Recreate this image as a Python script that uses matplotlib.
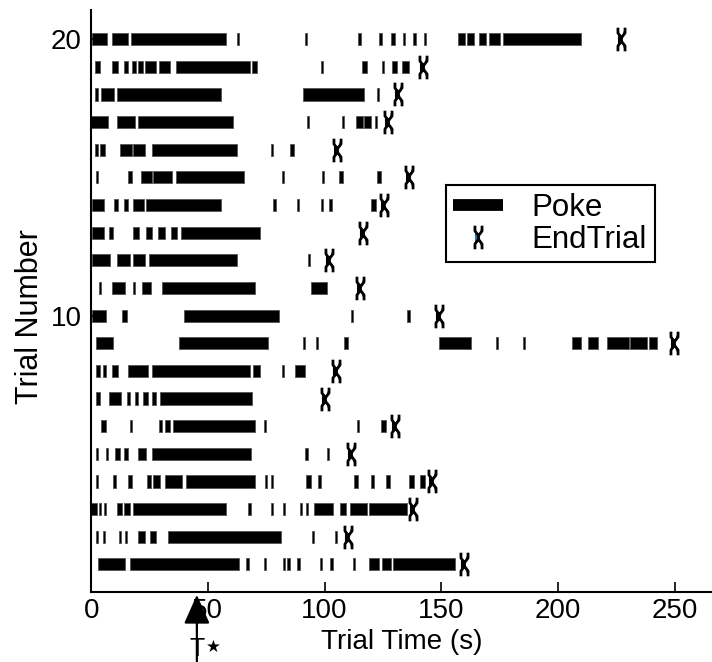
import matplotlib
matplotlib.use('Agg')
import matplotlib.pyplot as plt
from matplotlib.path import Path
from matplotlib.lines import Line2D

plt.rcParams['font.family'] = ['Liberation Sans', 'DejaVu Sans']

# poke intervals (start, end) in seconds for each trial
pokes_01 = [(3.1, 14.5), (16.7, 63.2), (66.5, 67.5), (74, 75), (82, 83), (84, 85), (88.3, 89.3),
            (98, 99), (102.5, 103.5), (112, 113), (119.2, 123.5), (124.5, 128.5), (129.5, 156)]
pokes_02 = [(2, 3), (5, 6), (12, 13), (14.4, 15.4), (20.2, 23), (25.2, 28), (33, 81.5),
            (94.5, 95.5), (104.5, 105.5)]
pokes_03 = [(0, 2.5), (3.2, 4.2), (5.5, 6.5), (11, 13.1), (14.2, 16.7), (18, 57.6), (67, 68.6),
            (77, 78), (82, 83), (89.5, 90.5), (92, 93), (95.4, 103.6), (106.8, 109.3),
            (110.7, 118.2), (119.2, 135.2)]
pokes_04 = [(2, 3), (9.5, 10.5), (15.7, 17.4), (23.8, 25.6), (26.6, 29.5), (31.6, 38.8),
            (40.6, 70.1), (74.5, 75.5), (77, 78), (92.2, 94.3), (97.4, 98.4), (112.5, 114.2),
            (119.7, 121.4), (126.3, 128.2), (136.3, 138.5), (140.9, 143.2)]
pokes_05 = [(2, 3), (6.2, 7.2), (10.3, 12.4), (14.2, 15.7), (20.2, 23.4), (26, 68.6),
            (91.7, 92.7), (100.9, 101.9)]
pokes_06 = [(4.3, 6.3), (16.6, 17.6), (29, 30.5), (31.6, 33.8), (35.2, 70.1), (73.9, 74.9),
            (113.7, 114.7), (124.2, 126.3)]
pokes_07 = [(2, 3.8), (7.7, 12.8), (15.5, 16.7), (18.8, 20.2), (22.4, 24.2), (26, 28), (29.5, 68.9)]
pokes_08 = [(2, 3.8), (5.2, 6.2), (8.8, 11.7), (15.7, 24.5), (26, 68), (69.4, 72.2),
            (81.7, 82.7), (87.5, 91.7)]
pokes_09 = [(2, 9.5), (37.6, 75.8), (90.7, 91.7), (96.4, 97.4), (108.3, 110), (149, 162.7),
            (173.3, 174.3), (185, 186), (206, 210), (213, 217.2), (221, 230.3), (231, 238.1),
            (239.2, 242.4)]
pokes_10 = [(0.3, 6.3), (13.4, 15.2), (39.7, 80.5), (111.3, 112.3), (135.5, 136.5)]
pokes_11 = [(3.3, 4.3), (8.8, 14.5), (18, 18.8), (21.6, 25.6), (30.5, 70.4), (94.3, 101.1)]
pokes_12 = [(0.3, 8.1), (11, 16.7), (18, 23), (25, 62.3), (92.8, 93.8)]
pokes_13 = [(0.3, 5.3), (7.7, 9.5), (18, 20.5), (23.5, 26), (28.8, 31.6), (34.2, 37), (38.5, 72.2)]
pokes_14 = [(0.3, 5.3), (10, 11.7), (14.2, 15.7), (17.8, 22.8), (23.4, 55.6), (78.1, 79.1),
            (88.1, 89.1), (98.3, 99.3), (102.1, 103.1), (120, 122)]
pokes_15 = [(1.9, 2.9), (16, 17.4), (21.4, 26), (26.6, 34.5), (36.2, 65.5), (81.8, 82.8),
            (98.8, 99.8), (106, 107.7), (122.6, 124.4)]
pokes_16 = [(1.7, 2.8), (3.8, 6), (12.4, 17.4), (18, 23), (26, 62.3), (76.9, 77.9), (85, 86.8)]
pokes_17 = [(0, 7.3), (11, 18.8), (20.2, 60.7), (92.5, 93.5), (107.5, 108.5), (113.5, 116.4),
            (117, 120), (121.5, 122.5)]
pokes_18 = [(1.7, 3), (4.3, 9.8), (11, 55.6), (90.6, 117), (122.5, 123.5)]
pokes_19 = [(1.7, 3.8), (9, 11.5), (14, 15.8), (17.4, 19.1), (20.2, 22.4), (23, 28), (29, 33.8),
            (36.2, 68), (69, 71.2), (98.5, 99.5), (116, 118.4), (124.5, 125.5), (129, 131),
            (133, 136.3)]
pokes_20 = [(0.4, 6.8), (9, 15.8), (17, 57.7), (62.5, 63.5), (91.5, 92.5), (114.5, 115.5),
            (123.5, 124.5), (128.5, 130), (133.5, 134.5), (138, 139), (142.5, 143.5),
            (157, 160), (161, 164), (166, 169), (170.5, 175), (176.5, 210)]

pokes = [pokes_01, pokes_02, pokes_03, pokes_04, pokes_05, pokes_06, pokes_07, pokes_08,
         pokes_09, pokes_10, pokes_11, pokes_12, pokes_13, pokes_14, pokes_15, pokes_16,
         pokes_17, pokes_18, pokes_19, pokes_20]

# end of trial time for trials 1..20
end_trial = [159.8, 110, 138, 146, 111.4, 130.2, 100.3, 105, 249.6, 149,
             115, 101.8, 116.4, 125.3, 136.3, 105.5, 127.4, 131.6, 142, 227]

t_star = 45.3

# hourglass-like marker for EndTrial
verts = [(-0.3, 1), (-0.3, 0.55), (0, 0.15), (0, -0.15), (-0.3, -0.55), (-0.3, -1),
         (0.3, 1), (0.3, 0.55), (0, 0.15),
         (0, -0.15), (0.3, -0.55), (0.3, -1)]
codes = [Path.MOVETO, Path.LINETO, Path.LINETO, Path.LINETO, Path.LINETO, Path.LINETO,
         Path.MOVETO, Path.LINETO, Path.LINETO,
         Path.MOVETO, Path.LINETO, Path.LINETO]
end_marker = Path(verts, codes)

fig = plt.figure(figsize=(7.12, 6.62), dpi=100)
ax = fig.add_axes([0.128, 0.1057, 0.872, 0.879])

for i, trial in enumerate(pokes):
    y = i + 1
    ax.broken_barh([(s, e - s) for s, e in trial], (y - 0.22, 0.44),
                   facecolors='black', edgecolors='#555555', linewidth=0.6)

ax.plot(end_trial, range(1, 21), linestyle='none', marker=end_marker,
        markersize=17, markeredgecolor='black', markeredgewidth=2, color='black')

ax.set_xlim(0, 266)
ax.set_ylim(0, 21.05)
ax.set_xticks([0, 50, 100, 150, 200, 250])
ax.set_yticks([10, 20])
ax.tick_params(direction='in', length=7, width=1.2, labelsize=20, pad=4)
ax.tick_params(axis='y', pad=7)
for s in ['top', 'right']:
    ax.spines[s].set_visible(False)
for s in ['left', 'bottom']:
    ax.spines[s].set_linewidth(1.5)

ax.set_xlabel('Trial Time (s)', fontsize=20, labelpad=4)
ax.set_ylabel('Trial Number', fontsize=22)
ax.yaxis.set_label_coords(-0.075, 0.474)

# T* arrow from below the axis
ax.annotate('', xy=(t_star, 0.0), xytext=(t_star, -2.8), annotation_clip=False,
            arrowprops=dict(arrowstyle='-|>,head_length=1.8,head_width=0.8',
                            mutation_scale=10, color='black', lw=1.6))
ax.text(t_star, -1.62, 'T', fontsize=18, ha='center', va='top', clip_on=False)
ax.text(52.3, -2.0, '★', fontsize=12, ha='center', va='center', clip_on=False,
        family=['DejaVu Sans'])

handles = [Line2D([], [], color='black', lw=8.5, solid_capstyle='butt'),
           Line2D([], [], linestyle='none', marker=end_marker, markersize=17,
                  markeredgecolor='black', markeredgewidth=2)]
leg = ax.legend(handles, ['Poke', 'EndTrial'], loc='upper left',
                bbox_to_anchor=(0.571, 0.699), borderaxespad=0, fontsize=22.5,
                fancybox=False, framealpha=1, edgecolor='black', handlelength=1.6,
                handletextpad=0.9, labelspacing=0.05, borderpad=0.25)
leg.get_frame().set_linewidth(1.5)

fig.savefig('out.png', dpi=100, facecolor='white')
